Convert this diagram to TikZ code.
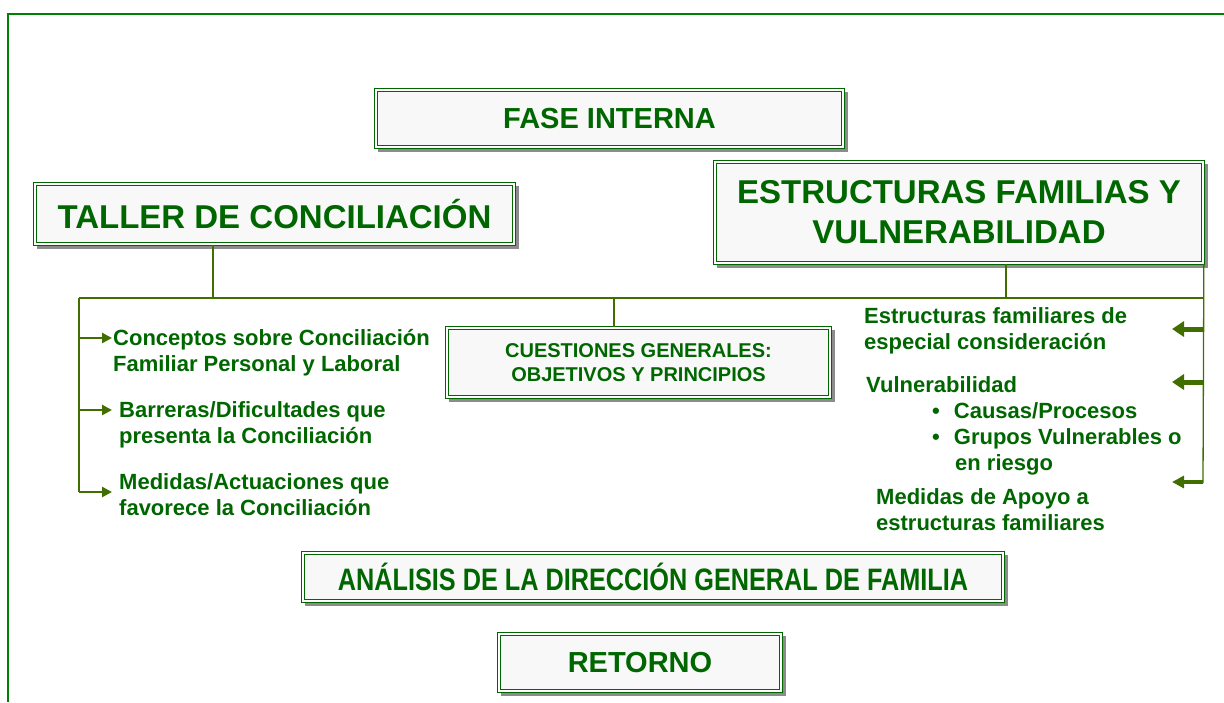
\documentclass[tikz,border=0pt]{standalone}
\usepackage{fontspec}
\setmainfont{Liberation Sans}
\newfontfamily\narrowfont{Liberation Sans}[FakeStretch=0.815]
\usetikzlibrary{arrows.meta}

\definecolor{txtgreen}{RGB}{0,102,0}
\definecolor{linegreen}{RGB}{64,110,0}
\definecolor{framegreen}{RGB}{0,128,0}
\definecolor{boxfill}{RGB}{248,248,248}

\tikzset{
	titlebox/.style={draw=txtgreen, double=white, line width=1.7pt, double distance=1.4pt,
		fill=boxfill, preaction={fill=gray!90, draw=gray!90, line width=3pt,
			transform canvas={shift={(3pt,-3pt)}}},
		inner sep=0pt, align=center, text=txtgreen},
	itemtext/.style={anchor=base west, align=left, inner sep=0pt, text=txtgreen,
		font=\fontsize{22}{26}\selectfont\bfseries},
	link/.style={draw=linegreen, line width=1.3pt},
	smallarrow/.style={draw=linegreen, line width=2.5pt, -{Triangle[length=10pt,width=10pt]}},
}

\begin{document}
\begin{tikzpicture}[x=1pt,y=-1pt]
\useasboundingbox (0,0) rectangle (1224,702);

%frame
\draw [framegreen, line width=2pt] (8,702)--(8,14)--(1224,14);

%boxes
\node [titlebox, minimum width=467, minimum height=57, font=\fontsize{29}{35}\selectfont\bfseries]
	(fase) at (609.5,118.5) {FASE INTERNA};
\node [titlebox, minimum width=479, minimum height=60, font=\fontsize{33}{40}\selectfont\bfseries]
	(taller) at (274.5,214) {TALLER DE CONCILIACIÓN};
\node [titlebox, minimum width=488, minimum height=101, font=\fontsize{33}{40}\selectfont\bfseries]
	(estr) at (959,212.5) {ESTRUCTURAS FAMILIAS Y\\VULNERABILIDAD};
\node [titlebox, minimum width=383, minimum height=69, font=\fontsize{20}{24}\selectfont\bfseries]
	(cuest) at (638.5,362.5) {CUESTIONES GENERALES:\\OBJETIVOS Y PRINCIPIOS};
\node [titlebox, minimum width=700, minimum height=48, font=\narrowfont\fontsize{31}{36}\selectfont\bfseries]
	(analisis) at (653,577) {ANÁLISIS DE LA DIRECCIÓN GENERAL DE FAMILIA};
\node [titlebox, minimum width=282, minimum height=57, font=\fontsize{29}{35}\selectfont\bfseries]
	(retorno) at (640,662.5) {RETORNO};

%left items (placed at the baseline of the last line)
\node [itemtext] (concep) at (113,371) {Conceptos sobre Conciliación\\Familiar Personal y Laboral};
\node [itemtext] (barr) at (119,443) {Barreras/Dificultades que\\presenta la Conciliación};
\node [itemtext] (medact) at (119,515) {Medidas/Actuaciones que\\favorece la Conciliación};

%right items
\node [itemtext] (especial) at (864,349) {Estructuras familiares de\\especial consideración};
\node [itemtext] (vul) at (866,470) {Vulnerabilidad\\
	\hspace*{66pt}\textbullet\hspace*{14pt}Causas/Procesos\\
	\hspace*{66pt}\textbullet\hspace*{14pt}Grupos Vulnerables o\\
	\hspace*{89pt}en riesgo};
\node [itemtext] (apoyo) at (876,530) {Medidas de Apoyo a\\estructuras familiares};

%tree lines
\coordinate (tl) at (79,298);
\coordinate (tr) at (1203,298);
\coordinate (tjoin) at (213,298);
\coordinate (ejoin) at (1006,298);
\coordinate (cjoin) at (614,298);
\draw [link] (tl)--(tr);
\draw [link] (tjoin |- taller.south)--(tjoin);
\draw [link] (ejoin |- estr.south)--(ejoin);
\draw [link] (cjoin)--(cjoin |- cuest.north);
\coordinate (lbot) at (79,492);
\coordinate (rbot) at (1203,483);
\draw [link] (tl)--(lbot);
\draw [link] (estr.south east)--(rbot);

%left arrows
\foreach \y [count=\i] in {338,410,492}{
	\coordinate (la\i) at (112,\y);
	\draw [smallarrow] (tl |- la\i)--(la\i);
}
%right arrows
\foreach \y/\w/\h [count=\i] in {329/5/15,382/5/15,482/3.2/12}{
	\coordinate (ra\i) at (1172,\y);
	\draw [draw=linegreen, line width=\w pt, -{Triangle[length=12pt,width=\h pt]}] (tr |- ra\i)--(ra\i);
}
\end{tikzpicture}
\end{document}
